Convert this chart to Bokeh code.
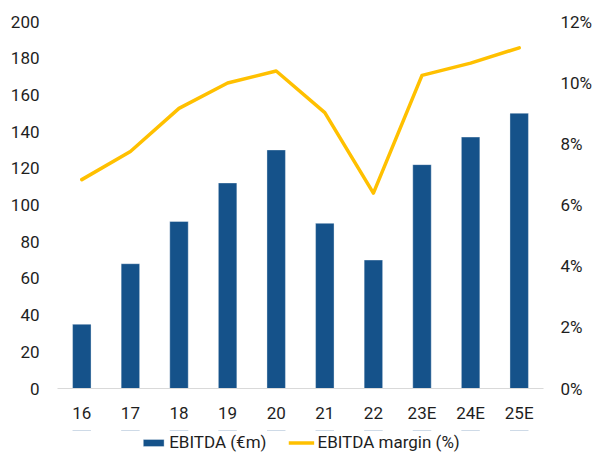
from bokeh.plotting import figure
from bokeh.models import (Range1d, FactorRange, LinearAxis, FixedTicker,
                          PrintfTickFormatter, Legend, LegendItem, ColumnDataSource)
from bokeh.layouts import column
from bokeh.embed import file_html
from bokeh.resources import INLINE

years = ["16", "17", "18", "19", "20", "21", "22", "23E", "24E", "25E"]
ebitda = [35, 68, 91, 112, 130, 90, 70, 122, 137, 150]
margin_pct = [6.83, 7.75, 9.16, 9.99, 10.38, 9.02, 6.39, 10.24, 10.64, 11.14]
left_ticks = [0, 20, 40, 60, 80, 100, 120, 140, 160, 180, 200]
right_ticks = [0, 2, 4, 6, 8, 10, 12]
legend_labels = ["EBITDA (€m)", "EBITDA margin (%)"]

BAR = "#15528A"
LINE = "#FFC000"
TXT = "#1E1E1E"
FONT = "Roboto"
FS = "17px"

src = ColumnDataSource(dict(x=years, ebitda=ebitda, m=margin_pct))

p = figure(frame_width=486, frame_height=367, x_range=FactorRange(*years, range_padding=0),
           y_range=Range1d(0, 200), output_backend="svg", toolbar_location=None,
           min_border_top=21, min_border_left=57, min_border_right=52, min_border_bottom=42)
p.extra_y_ranges = {"pct": Range1d(0, 12)}

p.outline_line_color = None
p.grid.visible = False
p.background_fill_color = "white"
p.border_fill_color = "white"

p.vbar(x="x", top="ebitda", width=0.38, source=src, fill_color=BAR,
       line_color="white", line_width=0.6, line_alpha=0.6)
p.line(x="x", y="m", source=src, y_range_name="pct", line_color=LINE,
       line_width=3.5, line_join="round", line_cap="round")

# left axis
ya = p.yaxis[0]
ya.ticker = FixedTicker(ticks=left_ticks)
ya.axis_line_color = None
ya.major_tick_line_color = None
ya.minor_tick_line_color = None
ya.major_tick_out = 0
ya.major_tick_in = 0
ya.major_label_standoff = 18
ya.major_label_text_font = FONT
ya.major_label_text_font_size = FS
ya.major_label_text_color = TXT

# right axis
ra = LinearAxis(y_range_name="pct", ticker=FixedTicker(ticks=right_ticks),
                formatter=PrintfTickFormatter(format="%d%%"))
ra.axis_line_color = None
ra.major_tick_line_color = None
ra.minor_tick_line_color = None
ra.major_tick_out = 0
ra.major_tick_in = 0
ra.major_label_standoff = 17
ra.major_label_text_font = FONT
ra.major_label_text_font_size = FS
ra.major_label_text_color = TXT
p.add_layout(ra, "right")

# x axis
xa = p.xaxis[0]
xa.axis_line_color = "#D9D9D9"
xa.axis_line_width = 1.2
xa.major_tick_line_color = None
xa.minor_tick_line_color = None
xa.major_tick_out = 0
xa.major_tick_in = 0
xa.major_label_standoff = 14
xa.major_label_text_font = FONT
xa.major_label_text_font_size = FS
xa.major_label_text_color = TXT

# legend strip: a small figure whose renderers use the same data but fall
# outside its visible y range, so only the legend is shown
lp = figure(width=595, height=24, x_range=FactorRange(*years, range_padding=0),
            y_range=Range1d(-2, -1), output_backend="svg", toolbar_location=None,
            x_axis_location=None, y_axis_location=None,
            min_border_top=0, min_border_left=0, min_border_right=0, min_border_bottom=0)
lp.outline_line_color = None
lp.grid.visible = False
lp.border_fill_color = "white"
lp.background_fill_color = "white"
lbar = lp.vbar(x="x", top="ebitda", width=0.38, source=src, fill_color=BAR,
               line_color="white", line_width=0.6, line_alpha=0.6)
lline = lp.line(x="x", y="m", source=src, line_color=LINE, line_width=3.5)

legend = Legend(items=[LegendItem(label=legend_labels[0], renderers=[lbar]),
                       LegendItem(label=legend_labels[1], renderers=[lline])],
                orientation="horizontal", location="center",
                glyph_width=26, glyph_height=9, label_standoff=3, spacing=22,
                padding=2, margin=0, border_line_color=None,
                background_fill_alpha=0,
                label_text_font=FONT, label_text_font_size=FS,
                label_text_color=TXT)
lp.add_layout(legend, "center")

layout = column(p, lp, spacing=0)
open("out.html", "w").write(file_html(layout, INLINE))
